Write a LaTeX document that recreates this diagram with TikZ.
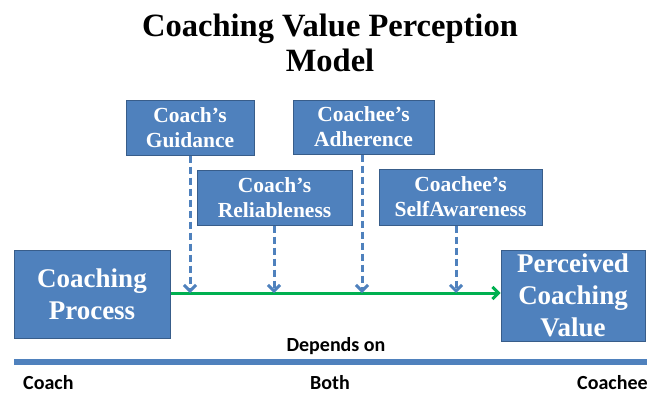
\documentclass[tikz,border=0pt]{standalone}
\usepackage{fontspec}
\setmainfont{Liberation Serif}
\newfontfamily\calib{Carlito}
\usetikzlibrary{arrows.meta}
\definecolor{boxblue}{HTML}{4F81BD}
\definecolor{boxedge}{HTML}{385D8A}
\definecolor{arrgreen}{HTML}{00B050}
\begin{document}
\begin{tikzpicture}[x=1pt,y=-1pt,
  box/.style={draw=boxedge, line width=1pt, fill=boxblue, text=white,
    font=\bfseries\fontsize{21.5}{25}\selectfont, align=center, inner sep=0pt, minimum height=55pt},
  bigbox/.style={box, font=\bfseries\fontsize{27}{32}\selectfont},
  dep/.style={draw=boxblue, line width=3pt, dash pattern=on 7pt off 4pt,
    -{Straight Barb[length=6pt,width=12pt,line width=3pt]}},
  flow/.style={draw=arrgreen, line width=3pt,
    -{Straight Barb[length=6pt,width=12pt,line width=3pt]}},
  lbl/.style={font=\calib\bfseries\fontsize{20}{22}\selectfont},
  ttl/.style={font=\bfseries\fontsize{32.5}{36}\selectfont}]
\useasboundingbox (0,0) rectangle (647,394);
\node[ttl, anchor=base] (t1) at (330,36) {Coaching Value Perception};
\node[ttl, anchor=base] (t2) at (330,71) {Model};

\node[box, minimum width=128pt] (guid) at (190,127.5) {Coach’s\\Guidance};
\node[box, minimum width=141pt, minimum height=54pt] (adh) at (363.5,127) {Coachee’s\\Adherence};
\node[box, minimum width=155pt] (rel) at (274.5,197.5) {Coach’s\\Reliableness};
\node[box, minimum width=163pt, minimum height=56pt] (self) at (460.5,197) {Coachee’s\\SelfAwareness};
\node[bigbox, minimum width=156pt, minimum height=88pt] (proc) at (92,294) {Coaching\\Process};
\node[bigbox, minimum width=144pt, minimum height=91pt] (perc) at (573,295.5) {Perceived\\Coaching\\Value};

\coordinate (gl) at (0,293);
\draw[flow] (proc.east |- gl) -- (perc.west |- gl);
\draw[dep] ([xshift=0pt]guid.south) -- ([xshift=0pt]guid.south |- gl);
\draw[dep] ([xshift=-0.5pt]rel.south) -- ([xshift=-0.5pt]rel.south |- gl);
\draw[dep] ([xshift=-1.5pt]adh.south) -- ([xshift=-1.5pt]adh.south |- gl);
\draw[dep] ([xshift=-4.5pt]self.south) -- ([xshift=-4.5pt]self.south |- gl);

\node[lbl, anchor=base] (dep) at (336,351) {Depends on};
\coordinate (l1) at (14,362);
\coordinate (l2) at (647,362);
\draw[boxblue, line width=5.5pt] (l1) -- (l2);
\node[lbl, anchor=base west, inner sep=0pt] (coach) at (23,389) {Coach};
\node[lbl, anchor=base, inner sep=0pt] (both) at (330,389) {Both};
\node[lbl, anchor=base west, inner sep=0pt] (coachee) at (577,389) {Coachee};
\end{tikzpicture}
\end{document}
